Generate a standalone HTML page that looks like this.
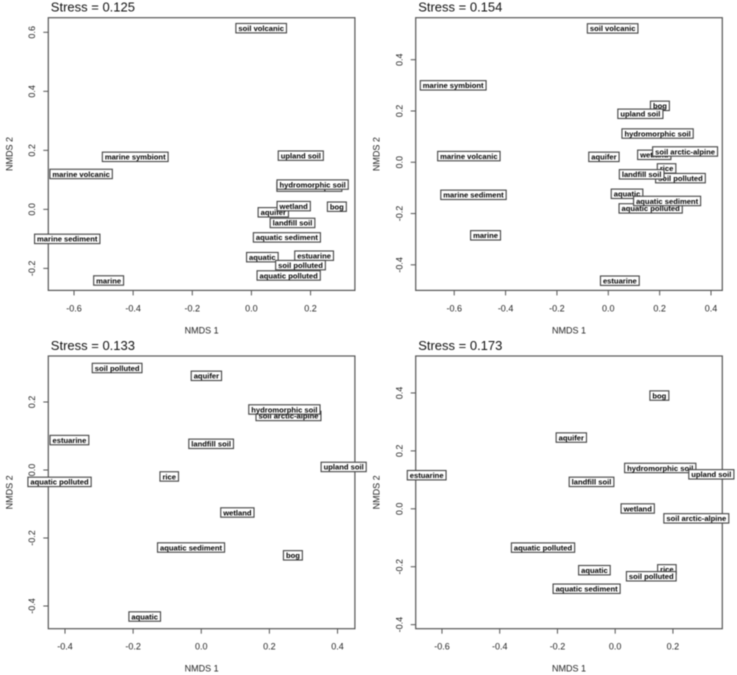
<!DOCTYPE html>
<html lang="en">
<head>
<meta charset="utf-8">
<title>NMDS ordination panels</title>
<style>
html,body{margin:0;padding:0;background:#fff;width:737px;height:675px;overflow:hidden}
svg{display:block;filter:blur(0.5px)}
text{font-family:"Liberation Sans",sans-serif}
.tick{font-size:9px;fill:#222}
.axis-title{font-size:9px;fill:#222}
.stress{font-size:13px;fill:#111}
.site{font-size:7.6px;font-weight:bold;fill:#000}
</style>
</head>
<body>
<svg id="figure" width="737" height="675" viewBox="0 0 737 675" xmlns="http://www.w3.org/2000/svg"></svg>
<script>
// Panel A data
const aStress = "Stress = 0.125";
const aNames = ["soil volcanic","marine symbiont","marine volcanic","marine sediment","marine","upland soil","soil arctic-alpine","hydromorphic soil","aquifer","wetland","bog","landfill soil","aquatic sediment","estuarine","aquatic","soil polluted","aquatic polluted"];
const aX = [0.033,-0.393,-0.576,-0.623,-0.483,0.167,0.196,0.207,0.074,0.143,0.289,0.139,0.120,0.212,0.037,0.166,0.126];
const aY = [0.614,0.178,0.120,-0.100,-0.241,0.182,0.077,0.084,-0.010,0.011,0.009,-0.046,-0.095,-0.157,-0.162,-0.189,-0.224];
const aXTicks = [-0.6,-0.4,-0.2,0.0,0.2];
const aYTicks = [-0.2,0.0,0.2,0.4,0.6];
const aXLim = [-0.687,0.350];
const aYLim = [-0.2746,0.6495];

// Panel B data
const bStress = "Stress = 0.154";
const bNames = ["soil volcanic","marine symbiont","marine volcanic","marine sediment","marine","aquifer","bog","upland soil","hydromorphic soil","wetland","soil arctic-alpine","soil polluted","rice","landfill soil","aquatic","aquatic polluted","aquatic sediment","estuarine"];
const bX = [0.017,-0.604,-0.543,-0.525,-0.478,-0.017,0.201,0.125,0.192,0.179,0.299,0.281,0.227,0.130,0.073,0.165,0.229,0.045];
const bY = [0.522,0.300,0.024,-0.127,-0.285,0.021,0.220,0.189,0.112,0.029,0.042,-0.062,-0.024,-0.047,-0.123,-0.180,-0.151,-0.462];
const bXTicks = [-0.6,-0.4,-0.2,0.0,0.2,0.4];
const bYTicks = [-0.4,-0.2,0.0,0.2,0.4];
const bXLim = [-0.750,0.444];
const bYLim = [-0.4998,0.5638];

// Panel C data
const cStress = "Stress = 0.133";
const cNames = ["soil polluted","aquifer","soil arctic-alpine","hydromorphic soil","estuarine","landfill soil","rice","upland soil","aquatic polluted","wetland","aquatic sediment","bog","aquatic"];
const cX = [-0.247,0.015,0.256,0.244,-0.387,0.029,-0.094,0.418,-0.416,0.106,-0.030,0.269,-0.166];
const cY = [0.300,0.277,0.159,0.178,0.088,0.077,-0.019,0.009,-0.035,-0.125,-0.228,-0.251,-0.431];
const cXTicks = [-0.4,-0.2,0.0,0.2,0.4];
const cYTicks = [-0.4,-0.2,0.0,0.2];
const cXLim = [-0.449,0.451];
const cYLim = [-0.4668,0.3353];

// Panel D data
const dStress = "Stress = 0.173";
const dNames = ["bog","aquifer","hydromorphic soil","upland soil","estuarine","landfill soil","wetland","soil arctic-alpine","aquatic polluted","aquatic","rice","soil polluted","aquatic sediment"];
const dX = [0.153,-0.152,0.156,0.333,-0.653,-0.082,0.078,0.281,-0.250,-0.072,0.179,0.125,-0.099];
const dY = [0.391,0.246,0.141,0.119,0.116,0.093,0.001,-0.033,-0.134,-0.212,-0.209,-0.233,-0.276];
const dXTicks = [-0.6,-0.4,-0.2,0.0,0.2];
const dYTicks = [-0.4,-0.2,0.0,0.2,0.4];
const dXLim = [-0.691,0.371];
const dYLim = [-0.414,0.5276];

const SVG_NS = "http://www.w3.org/2000/svg";
const figure = document.getElementById("figure");

function make(parent, tag, attrs, content) {
  const el = document.createElementNS(SVG_NS, tag);
  for (const key in attrs) el.setAttribute(key, attrs[key]);
  if (content !== undefined) el.textContent = content;
  parent.appendChild(el);
  return el;
}

function slug(s) {
  return s.replace(/[^a-z0-9]+/gi, "-").toLowerCase();
}

function drawPanel(cfg) {
  const L = cfg.left, T = cfg.top, W = 306.6, H = 272.7;
  const R = L + W, B = T + H;
  const sx = v => L + (v - cfg.xLim[0]) / (cfg.xLim[1] - cfg.xLim[0]) * W;
  const sy = v => B - (v - cfg.yLim[0]) / (cfg.yLim[1] - cfg.yLim[0]) * H;

  const g = make(figure, "g", {});
  
  

  const title = make(g, "text", {x: L + 2.5, y: T - 6, class: "stress"}, cfg.stress);
  
  

  const frame = make(g, "rect", {x: L, y: T, width: W, height: H, fill: "#fff", stroke: "#555", "stroke-width": 1.2});
  
  

  cfg.xTicks.forEach(t => {
    const px = sx(t);
    const tickMark = make(g, "line", {x1: px, x2: px, y1: B, y2: B + 5, stroke: "#555", "stroke-width": 1});
    
    
    const tickText = make(g, "text", {x: px, y: B + 21, "text-anchor": "middle", class: "tick"}, t.toFixed(1));
    
    
  });

  cfg.yTicks.forEach(t => {
    const py = sy(t);
    const tickMark = make(g, "line", {x1: L - 5, x2: L, y1: py, y2: py, stroke: "#555", "stroke-width": 1});
    
    
    const tx = L - 13.4;
    const tickText = make(g, "text", {x: tx, y: py, "text-anchor": "middle", transform: "rotate(-90 " + tx + " " + py + ")", class: "tick"}, t.toFixed(1));
    
    
  });

  const xTitle = make(g, "text", {x: L + W / 2, y: B + 43, "text-anchor": "middle", class: "axis-title"}, "NMDS 1");
  
  

  const yx = L - 36, yy = T + H / 2;
  const yTitle = make(g, "text", {x: yx, y: yy, "text-anchor": "middle", transform: "rotate(-90 " + yx + " " + yy + ")", class: "axis-title"}, "NMDS 2");
  
  

  cfg.names.forEach((name, i) => {
    const px = sx(cfg.x[i]), py = sy(cfg.y[i]);
    const site = make(g, "g", {});
    
    
    const box = make(site, "rect", {fill: "#fff", stroke: "#444", "stroke-width": 1.1});
    
    
    const label = make(site, "text", {x: px, y: py + 2.8, "text-anchor": "middle", class: "site"}, name);
    
    
    const w = label.getComputedTextLength() + 5;
    box.setAttribute("x", px - w / 2);
    box.setAttribute("y", py - 4.7);
    box.setAttribute("width", w);
    box.setAttribute("height", 9.4);
  });
}

drawPanel({id: "a", left: 48.3, top: 17.7, stress: aStress, names: aNames, x: aX, y: aY, xTicks: aXTicks, yTicks: aYTicks, xLim: aXLim, yLim: aYLim});
drawPanel({id: "b", left: 415.7, top: 17.7, stress: bStress, names: bNames, x: bX, y: bY, xTicks: bXTicks, yTicks: bYTicks, xLim: bXLim, yLim: bYLim});
drawPanel({id: "c", left: 48.3, top: 356, stress: cStress, names: cNames, x: cX, y: cY, xTicks: cXTicks, yTicks: cYTicks, xLim: cXLim, yLim: cYLim});
drawPanel({id: "d", left: 415.7, top: 356, stress: dStress, names: dNames, x: dX, y: dY, xTicks: dXTicks, yTicks: dYTicks, xLim: dXLim, yLim: dYLim});
</script>
</body>
</html>
